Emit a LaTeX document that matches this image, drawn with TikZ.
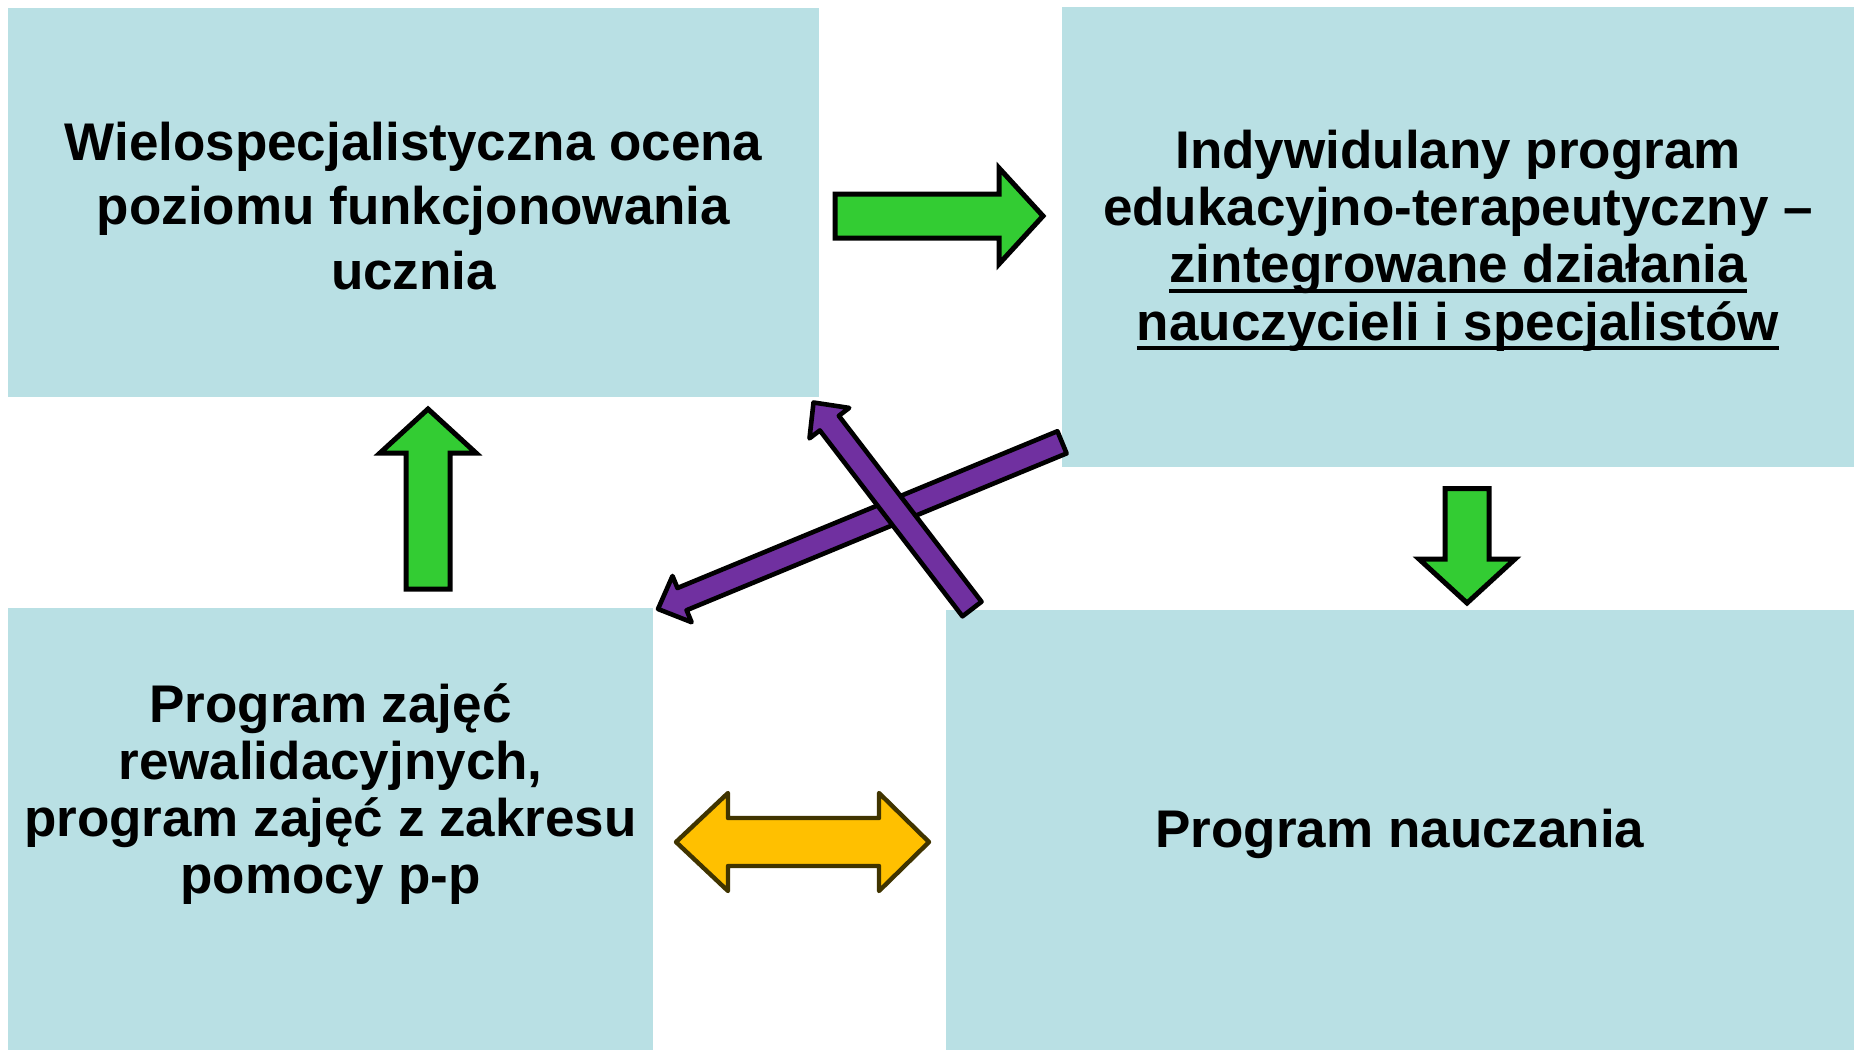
\documentclass[tikz,border=0pt]{standalone}
\usepackage{fontspec}
\setmainfont{Liberation Sans}
\usetikzlibrary{calc}
\definecolor{boxc}{RGB}{185,224,228}
\definecolor{grn}{RGB}{51,204,51}
\definecolor{purp}{RGB}{112,48,160}
\definecolor{yel}{RGB}{255,192,0}
\definecolor{yelo}{RGB}{64,52,0}
\newsavebox\ulbox
\newcommand{\myul}[1]{\sbox\ulbox{#1}\rlap{\rule[-5pt]{\wd\ulbox}{2pt}}\usebox\ulbox}
\newcommand{\blockarrow}[7]{%
  \coordinate (#1-t) at #3;
  \coordinate (#1-p) at #4;
  \coordinate (#1-h) at ($(#1-p)!#7!(#1-t)$);
  \path[#2] ($(#1-t)!#5!90:(#1-p)$) -- ($(#1-h)!#5!90:(#1-p)$) -- ($(#1-h)!#6!90:(#1-p)$) -- (#1-p) -- ($(#1-h)!#6!-90:(#1-p)$) -- ($(#1-h)!#5!-90:(#1-p)$) -- ($(#1-t)!#5!-90:(#1-p)$) -- cycle;
}
\begin{document}
\begin{tikzpicture}[x=0.5pt,y=-0.5pt,
  box/.style={fill=boxc, draw=none, inner sep=0, rectangle},
  txt/.style={anchor=base, align=center, inner sep=0},
  garrow/.style={fill=grn, draw=black, line width=2.5pt, line join=miter},
  parrow/.style={fill=purp, draw=black, line width=2.3pt, line join=round},
  yarrow/.style={fill=yel, draw=yelo, line width=2.2pt, line join=round}]
\fill[white] (0,0) rectangle (1855,1050);
\useasboundingbox (0,0) rectangle (1855,1050);
% boxes
\node[box, minimum width=405.5pt, minimum height=194.5pt] (tl) at (413.5,202.5) {};
\node[box, minimum width=396pt, minimum height=230pt] (tr) at (1458,237) {};
\node[box, minimum width=322.5pt, minimum height=221pt] (bl) at (330.5,829) {};
\node[box, minimum width=454pt, minimum height=220pt] (br) at (1400,830) {};
% texts (base anchor = baseline of last line)
\node[txt, font=\bfseries\fontsize{26.5pt}{32.25pt}\selectfont] (tlt) at (413.5,289)
  {Wielospecjalistyczna ocena\\poziomu funkcjonowania\\ucznia};
\node[txt, font=\bfseries\fontsize{26.5pt}{28.65pt}\selectfont] (trt) at (1458,340)
  {Indywidulany program\\edukacyjno-terapeutyczny –\\\myul{zintegrowane działania}\\\myul{nauczycieli i specjalistów}};
\node[txt, font=\bfseries\fontsize{26.5pt}{28.5pt}\selectfont] (blt) at (330.5,893)
  {Program zajęć\\rewalidacyjnych,\\program zajęć z zakresu\\pomocy p-p};
\node[txt, font=\bfseries\fontsize{26.5pt}{28.5pt}\selectfont] (brt) at (1400,847)
  {Program nauczania};
% green arrows
\blockarrow{gr}{garrow}{(835,216)}{(1043,216)}{11pt}{24pt}{22pt}
\blockarrow{gu}{garrow}{(428,589)}{(428,409)}{11pt}{24pt}{22pt}
\blockarrow{gd}{garrow}{(1467,488.5)}{(1467,603)}{11pt}{24pt}{22pt}
% purple arrows
\blockarrow{pa}{parrow}{(1062,442.3)}{(658,609)}{6pt}{12.5pt}{13pt}
\blockarrow{pb}{parrow}{(972,609)}{(813.5,402.5)}{6pt}{12.5pt}{13pt}
% yellow double arrow
\path[yarrow] (676,842) coordinate (yl) -- (728,793) -- (728,818) -- (879,818) -- (879,793)
  -- (929,842) coordinate (yr) -- (879,891) -- (879,866) -- (728,866) -- (728,891) -- cycle;
\end{tikzpicture}
\end{document}
